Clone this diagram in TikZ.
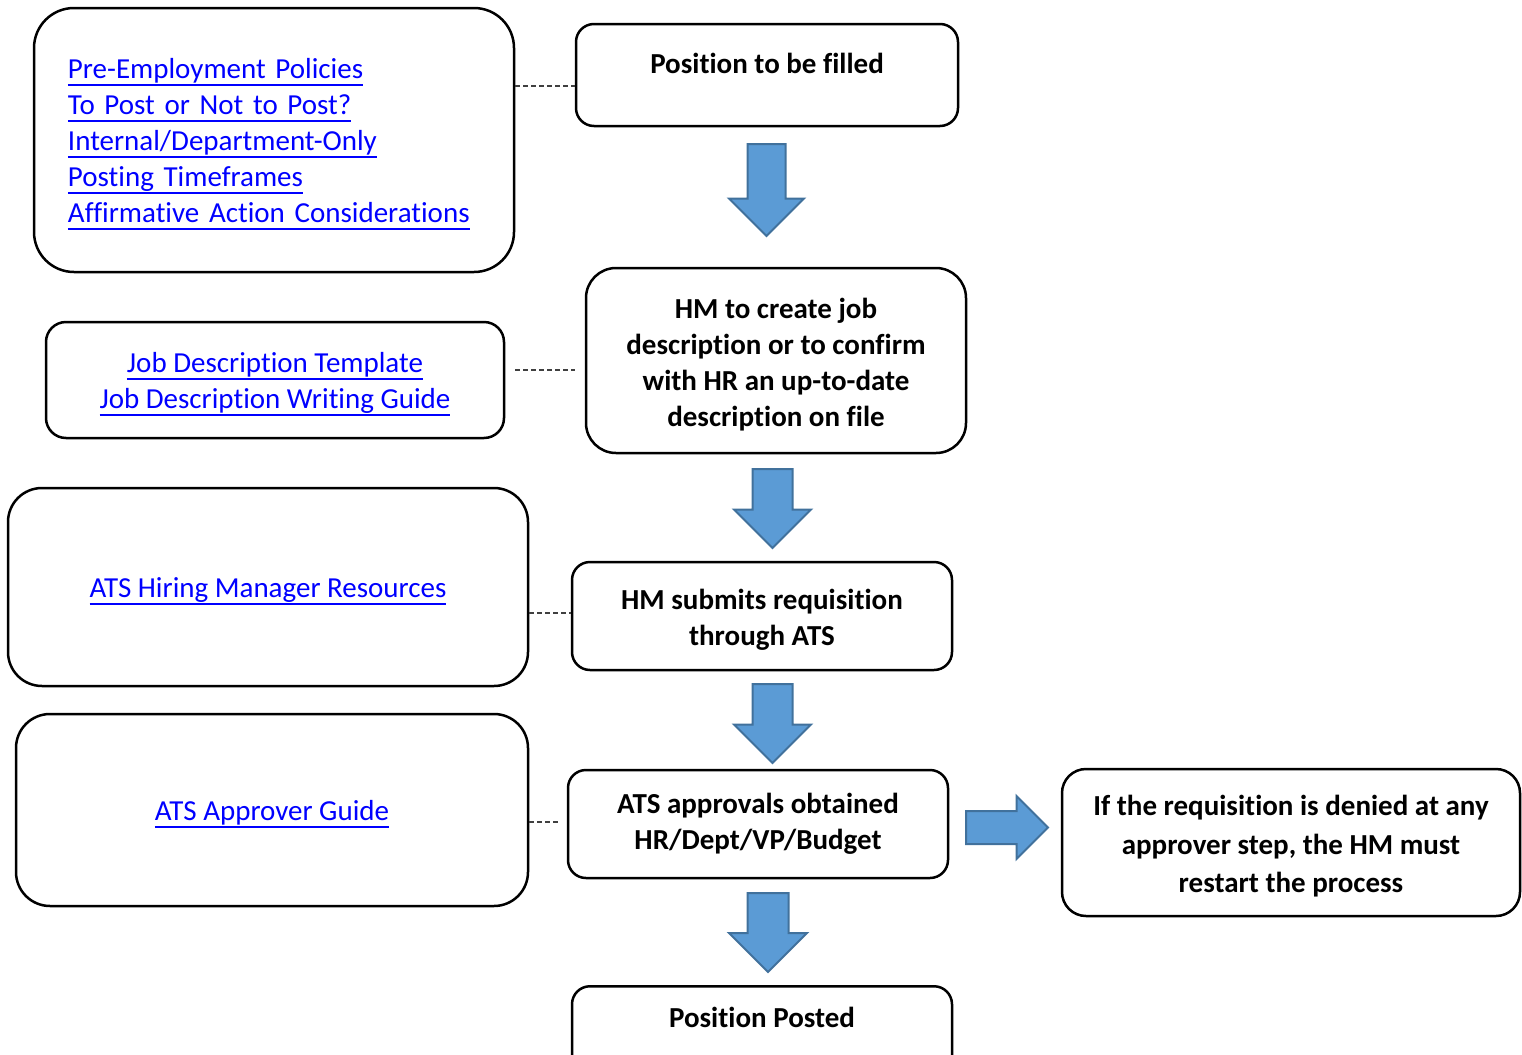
\documentclass[tikz,border=0pt]{standalone}
\usepackage{fontspec}
\setmainfont{Carlito}[Ligatures={NoCommon}]
\usetikzlibrary{shapes.arrows}
\definecolor{arrowfill}{HTML}{5B9BD5}
\definecolor{arrowline}{HTML}{41719C}
\definecolor{linkblue}{HTML}{0000FF}
\newsavebox{\lnkbox}
\newcommand{\lnk}[1]{\textcolor{linkblue}{\sbox{\lnkbox}{#1}\rlap{\rule[-3.7pt]{\wd\lnkbox}{1pt}}\usebox{\lnkbox}}}
\newcommand{\stepstrut}{14pt}

\begin{document}
\begin{tikzpicture}[
        x=0.5pt, y=-0.5pt,
        stepbox/.style={
            draw,
            line width=1.25pt,
            rounded corners=9pt,
            minimum width=190pt,
            minimum height=54pt,
            text width=170pt,
            align=flush center,
            execute at begin node={\rule{0pt}{\stepstrut}},
            font=\bfseries\fontsize{14.5}{18}\selectfont
        },
        linkbox/.style={
            draw,
            line width=1.25pt,
            rounded corners=17pt,
            align=center,
            execute at begin node={\rule{0pt}{14pt}},
            font=\fontsize{14.5}{18}\selectfont
        },
        downarrow/.style={
            single arrow,
            draw=arrowline,
            fill=arrowfill,
            line width=1pt,
            inner sep=9.5pt,
            anchor=tail,
            shape border rotate=270,
            minimum height=39.5pt,
            single arrow head extend=9.25pt
        },
        dashline/.style={
            draw=black!75,
            line width=0.6pt,
            dash pattern=on 2.5pt off 1.5pt
        }
    ]
        \useasboundingbox (0,0) rectangle (1522,1055);

        % steps on the right
        \node[stepbox, minimum width=191pt, minimum height=51pt, text depth=16pt] (filled) at (767,75) {Position to be filled};
        \node[stepbox, minimum height=92.5pt, rounded corners=15pt] (jobdesc) at (776,360.5)
            {HM to create job\\description or to confirm\\with HR an up-to-date\\description on file};
        \node[stepbox] (submit) at (762,616) {HM submits requisition\\through ATS};
        \node[stepbox, /utils/exec={\def\stepstrut{10pt}}] (approve) at (758,824) {ATS approvals obtained\\HR/Dept/VP/Budget};
        \node[stepbox, anchor=north, minimum height=51pt, text depth=24pt] (posted) at (762,985) {Position Posted};
        \node[stepbox, minimum width=229pt, minimum height=73.5pt, rounded corners=12pt, text width=215pt,
              font=\bfseries\fontsize{14.5}{19.25}\selectfont] (denied) at (1291,842.5)
            {If the requisition is denied at any\\approver step, the HM must\\restart the process};

        % resources on the left
        \node[linkbox, align=left, text width=206pt, inner xsep=17pt, minimum height=132pt, rounded corners=20pt] (policies) at (274,140)
            {\lnk{Pre-Employment Policies}\\\lnk{To Post or Not to Post?}\\\lnk{Internal/Department-Only}\\\lnk{Posting Timeframes}\\\lnk{Affirmative Action Considerations}};
        \node[linkbox, minimum width=229pt, minimum height=58pt, text width=200pt, align=flush center, rounded corners=10pt] (template) at (275,380)
            {\lnk{Job Description Template}\\\lnk{Job Description Writing Guide}};
        \node[linkbox, minimum width=260pt, minimum height=99pt] (hmres) at (268,587) {\lnk{ATS Hiring Manager Resources}};
        \node[linkbox, minimum width=256pt, minimum height=96pt] (apprguide) at (272,810) {\lnk{ATS Approver Guide}};

        % block arrows
        \node[downarrow, minimum height=46pt, inner sep=9pt] (down1) at (766.5,143) {};
        \node[downarrow] (down2) at (772.5,468) {};
        \node[downarrow] (down3) at (772.5,683) {};
        \node[downarrow, inner sep=9.75pt] (down4) at (768,892) {};
        \node[downarrow, shape border rotate=0, minimum height=41pt, inner sep=7.75pt,
              single arrow head extend=7.5pt] (across) at (965,827.5) {};

        % dashed ties
        \draw[dashline] (policies.east |- 0,86) -- (filled.west |- 0,86);
        \draw[dashline, shorten <=5pt, shorten >=5pt] (template.east |- 0,370) -- (jobdesc.west |- 0,370);
        \draw[dashline] (hmres.east |- 0,613) -- (submit.west |- 0,613);
        \draw[dashline, shorten >=4pt] (apprguide.east |- 0,822) -- (approve.west |- 0,822);
    \end{tikzpicture}
\end{document}
